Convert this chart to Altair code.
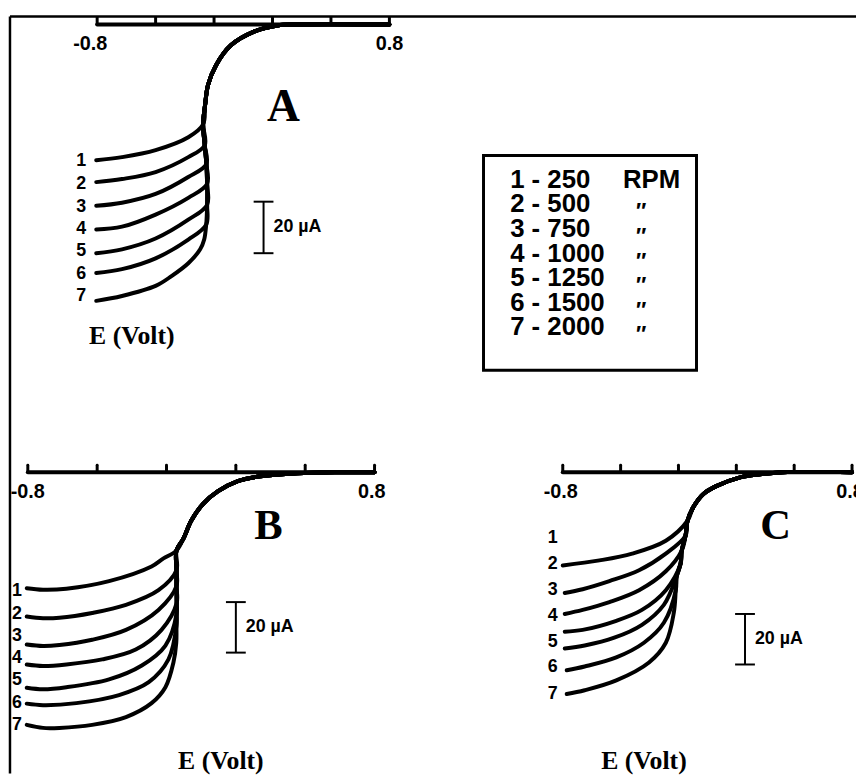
import altair as alt
import pandas as pd

# ---------------- data (E in volt, I in microampere) ----------------
RPM = [250, 500, 750, 1000, 1250, 1500, 2000]
TICKS_E = [-0.8, -0.48, -0.16, 0.16, 0.48, 0.8]

# Panel A
A_UPPER_E = [0.80, 0.295, 0.187, 0.062, -0.068, -0.149, -0.193, -0.209, -0.220]
A_UPPER_I = [0.0, 0.0, -0.4, -2.7, -8.1, -15.8, -23.5, -31.2, -38.8]
A_TRUNK_E = [-0.211, -0.202, -0.198, -0.198, -0.203, -0.214]
A_TRUNK_I = [-46.9, -54.2, -61.9, -70.0, -77.7, -83.5]
A_BRANCH_E = [
    [-0.301, -0.480, -0.664, -0.805],
    [-0.301, -0.480, -0.664, -0.805],
    [-0.301, -0.480, -0.664, -0.805],
    [-0.301, -0.480, -0.664, -0.805],
    [-0.301, -0.480, -0.664, -0.805],
    [-0.301, -0.480, -0.664, -0.805],
    [-0.236, -0.301, -0.393, -0.480, -0.664, -0.805],
]
A_BRANCH_I = [
    [-43.8, -48.8, -51.5, -52.7],
    [-51.5, -57.3, -60.0, -61.2],
    [-59.2, -65.8, -69.2, -70.4],
    [-67.3, -73.8, -78.5, -79.6],
    [-75.8, -83.1, -87.3, -88.8],
    [-83.5, -90.8, -95.0, -96.5],
    [-87.3, -92.7, -97.7, -101.5, -105.4, -107.3],
]
A_LABEL_E = -0.887
A_LABEL_I = [-53.1, -61.9, -70.8, -79.6, -88.1, -96.9, -105.4]

# Panel B
B_UPPER_E = [0.80, 0.626, 0.443, 0.274, 0.169, 0.078, 0.009, -0.046, -0.082, -0.114]
B_UPPER_I = [0.0, 0.0, -0.4, -1.6, -3.5, -7.5, -12.5, -19.2, -26.3, -31.0]
B_TRUNK_E = [-0.114, -0.114, -0.113, -0.113, -0.114, -0.115]
B_TRUNK_I = [-38.8, -45.1, -51.8, -55.7, -60.8, -67.5]
B_BRANCH_E = [
    [-0.174, -0.229, -0.425, -0.622, -0.730, -0.805],
    [-0.197, -0.347, -0.503, -0.654, -0.730, -0.805],
    [-0.197, -0.347, -0.503, -0.654, -0.730, -0.805],
    [-0.183, -0.302, -0.457, -0.622, -0.730, -0.805],
    [-0.165, -0.274, -0.425, -0.622, -0.730, -0.805],
    [-0.151, -0.242, -0.379, -0.576, -0.730, -0.805],
    [-0.128, -0.165, -0.229, -0.347, -0.503, -0.654, -0.730, -0.805],
]
B_BRANCH_I = [
    [-34.1, -37.3, -43.1, -46.1, -46.5, -45.9],
    [-46.7, -52.5, -55.7, -57.6, -57.8, -57.1],
    [-54.5, -62.4, -66.3, -68.4, -68.8, -68.2],
    [-62.4, -70.2, -74.1, -76.1, -76.7, -76.1],
    [-68.6, -76.5, -82.0, -85.1, -85.9, -85.3],
    [-74.1, -83.1, -88.2, -91.4, -92.2, -91.6],
    [-75.3, -85.1, -91.4, -96.9, -100.0, -101.2, -101.2, -100.0],
]
B_LABEL_E = -0.850
B_LABEL_I = [-47.1, -56.1, -64.7, -73.7, -82.4, -91.4, -100.0]

# Panel C
C_UPPER_E = [0.80, 0.416, 0.290, 0.181, 0.049, -0.022, -0.077, -0.110]
C_UPPER_I = [0.0, 0.0, -0.8, -2.0, -5.5, -8.6, -13.7, -19.2]
C_TRUNK_E = [-0.121, -0.142, -0.148, -0.170, -0.175, -0.186]
C_TRUNK_I = [-25.1, -31.0, -36.1, -41.2, -46.7, -55.7]
C_BRANCH_E = [
    [-0.230, -0.416, -0.597, -0.800],
    [-0.230, -0.378, -0.542, -0.690, -0.789],
    [-0.230, -0.378, -0.542, -0.690, -0.789],
    [-0.230, -0.362, -0.504, -0.690, -0.789],
    [-0.241, -0.362, -0.515, -0.679, -0.789],
    [-0.241, -0.351, -0.504, -0.679, -0.778],
    [-0.230, -0.323, -0.504, -0.679, -0.778],
]
C_BRANCH_I = [
    [-27.1, -32.2, -34.9, -36.9],
    [-32.2, -38.8, -43.1, -46.3, -47.8],
    [-39.2, -46.7, -51.4, -54.5, -56.1],
    [-46.7, -54.5, -58.8, -62.4, -63.1],
    [-52.5, -60.4, -65.5, -68.6, -69.8],
    [-59.6, -67.5, -73.3, -76.9, -78.4],
    [-67.5, -75.3, -82.4, -86.3, -87.8],
]
C_LABEL_E = -0.855
C_LABEL_I = [-25.9, -36.5, -46.7, -56.9, -67.1, -77.3, -87.8]

# ---------------- layout ----------------
W, H = 854, 764
# pixel x of -0.8 V, pixel x of +0.8 V, pixel y of 0 uA, px per uA (view coords)
LAYOUT = {"A": (88, 383, 8, 2.6), "B": (18, 368, 460, 2.55), "C": (558, 850, 460, 2.55)}
SANS = "Liberation Sans"
SERIF = "Liberation Serif"


def scales(key):
    pL, pR, p0, k = LAYOUT[key]
    s = (pR - pL) / 1.6
    x0 = -0.8 - pL / s
    top = p0 / k
    xs = alt.Scale(domain=[x0, x0 + W / s], nice=False, zero=False)
    ys = alt.Scale(domain=[top - H / k, top], nice=False, zero=False)
    return xs, ys, s, k


def panel(key, ue, ui, te, ti, be_list, bi_list, lab_e, lab_i, tick_lab_e,
          letter_pos, xlab_pos, bar_pos, letter_size):
    xs, ys, s, k = scales(key)

    def X(f):
        return alt.X(f, type="quantitative", scale=xs, axis=None)

    def Y(f):
        return alt.Y(f, type="quantitative", scale=ys, axis=None)

    rows = []
    for n, (be, bi) in enumerate(zip(be_list, bi_list), start=1):
        es = ue + te[: n - 1] + be
        iv = ui + ti[: n - 1] + bi
        for j, (e, i) in enumerate(zip(es, iv)):
            rows.append({"curve": n, "idx": j, "E": e, "I": i})
    curves = alt.Chart(pd.DataFrame(rows)).mark_line(
        color="black", strokeWidth=4, interpolate="catmull-rom",
        strokeCap="round", strokeJoin="round"
    ).encode(x=X("E"), y=Y("I"), detail="curve:N", order="idx:Q")

    axis_df = pd.DataFrame({"E0": [TICKS_E[0]], "E1": [TICKS_E[-1]], "I": [0.0]})
    axis_line = alt.Chart(axis_df).mark_rule(color="black", strokeWidth=4, strokeCap="round").encode(
        x=X("E0"), x2=alt.X2("E1"), y=Y("I"))

    tick_df = pd.DataFrame({"E": TICKS_E, "I0": [0.0] * len(TICKS_E), "I1": [7 / k] * len(TICKS_E)})
    ticks = alt.Chart(tick_df).mark_rule(color="black", strokeWidth=3, strokeCap="round").encode(
        x=X("E"), y=Y("I0"), y2=alt.Y2("I1"))

    tl_df = pd.DataFrame({"E": tick_lab_e, "I": [0.0, 0.0], "t": ["-0.8", "0.8"]})
    tick_labels = alt.Chart(tl_df).mark_text(
        font=SANS, fontWeight="bold", fontSize=20, dy=20, baseline="middle", align="center", color="black"
    ).encode(x=X("E"), y=Y("I"), text="t:N")

    nl_df = pd.DataFrame({"E": [lab_e] * 7, "I": lab_i, "t": [str(i) for i in range(1, 8)]})
    num_labels = alt.Chart(nl_df).mark_text(
        font=SANS, fontWeight="bold", fontSize=18, baseline="middle", align="center", color="black"
    ).encode(x=X("E"), y=Y("I"), text="t:N")

    let_df = pd.DataFrame({"E": [letter_pos[0]], "I": [letter_pos[1]], "t": [key]})
    letter = alt.Chart(let_df).mark_text(
        font=SERIF, fontWeight="bold", fontSize=letter_size, baseline="alphabetic", align="center", color="black"
    ).encode(x=X("E"), y=Y("I"), text="t:N")

    xl_df = pd.DataFrame({"E": [xlab_pos[0]], "I": [xlab_pos[1]], "t": ["E  (Volt)"]})
    xlabel = alt.Chart(xl_df).mark_text(
        font=SERIF, fontWeight="bold", fontSize=26, baseline="alphabetic", align="center", color="black"
    ).encode(x=X("E"), y=Y("I"), text="t:N")

    eb, itop = bar_pos
    cw = 10 / s
    bar_df = pd.DataFrame({"E": [eb], "I0": [itop], "I1": [itop - 20]})
    bar = alt.Chart(bar_df).mark_rule(color="black", strokeWidth=2).encode(
        x=X("E"), y=Y("I0"), y2=alt.Y2("I1"))
    cap_df = pd.DataFrame({"E0": [eb - cw, eb - cw], "E1": [eb + cw, eb + cw], "I": [itop, itop - 20]})
    caps = alt.Chart(cap_df).mark_rule(color="black", strokeWidth=2).encode(
        x=X("E0"), x2=alt.X2("E1"), y=Y("I"))
    bt_df = pd.DataFrame({"E": [eb], "I": [itop - 10], "t": ["20 µA"]})
    bar_text = alt.Chart(bt_df).mark_text(
        font=SANS, fontWeight="bold", fontSize=18, baseline="middle", align="left", dx=10, color="black"
    ).encode(x=X("E"), y=Y("I"), text="t:N")

    return alt.layer(curves, axis_line, ticks, tick_labels, num_labels, letter, xlabel, bar, caps, bar_text)


panelA = panel("A", A_UPPER_E, A_UPPER_I, A_TRUNK_E, A_TRUNK_I, A_BRANCH_E, A_BRANCH_I,
               A_LABEL_E, A_LABEL_I, [-0.838, 0.80], (0.220, -37.3), (-0.610, -124.2), (0.111, -68.8), 46)
panelB = panel("B", B_UPPER_E, B_UPPER_I, B_TRUNK_E, B_TRUNK_I, B_BRANCH_E, B_BRANCH_I,
               B_LABEL_E, B_LABEL_I, [-0.80, 0.787], (0.311, -26.3), (0.091, -117.6), (0.160, -51.4), 43)
panelC = panel("C", C_UPPER_E, C_UPPER_I, C_TRUNK_E, C_TRUNK_I, C_BRANCH_E, C_BRANCH_I,
               C_LABEL_E, C_LABEL_I, [-0.811, 0.789], (0.378, -26.3), (-0.351, -117.6), (0.208, -56.1), 43)

# ---------------- legend box ----------------
BOX_L, BOX_W = 478, 215       # px (view coords)
ROW_Y1, ROW_PITCH = 165, 24.8  # px of row 1 centre, row pitch
lx0 = -BOX_L / BOX_W
lxs = alt.Scale(domain=[lx0, lx0 + W / BOX_W], nice=False, zero=False)
ly0 = -(ROW_Y1 - ROW_PITCH) / ROW_PITCH
lys = alt.Scale(domain=[ly0, ly0 + H / ROW_PITCH], nice=False, zero=False, reverse=True)

leg_df = pd.DataFrame({
    "row": list(range(1, 8)),
    "lab": [f"{i} - {r}" for i, r in zip(range(1, 8), RPM)],
    "unit": ["RPM"] + ["\u2033"] * 6,
})
box_df = pd.DataFrame({"x0": [0.0], "x1": [1.0], "y0": [0.0], "y1": [8.74]})
box = alt.Chart(box_df).mark_rect(fillOpacity=0, stroke="black", strokeWidth=3).encode(
    x=alt.X("x0:Q", scale=lxs, axis=None), x2="x1:Q",
    y=alt.Y("y0:Q", scale=lys, axis=None), y2="y1:Q")
leg_lab = alt.Chart(leg_df).transform_calculate(cx="0.125").mark_text(
    font=SANS, fontWeight="bold", fontSize=26, align="left", baseline="middle", color="black"
).encode(x=alt.X("cx:Q", scale=lxs, axis=None), y=alt.Y("row:Q", scale=lys, axis=None), text="lab:N")
leg_rpm = alt.Chart(leg_df).transform_filter("datum.row == 1").transform_calculate(cx="0.655").mark_text(
    font=SANS, fontWeight="bold", fontSize=26, align="left", baseline="middle", color="black"
).encode(x=alt.X("cx:Q", scale=lxs, axis=None), y=alt.Y("row:Q", scale=lys, axis=None), text="unit:N")
leg_ditto = alt.Chart(leg_df).transform_filter("datum.row > 1").transform_calculate(cx="0.735").mark_text(
    font=SANS, fontWeight="bold", fontSize=22, fontStyle="italic", align="center", baseline="middle",
    dy=7, color="black"
).encode(x=alt.X("cx:Q", scale=lxs, axis=None), y=alt.Y("row:Q", scale=lys, axis=None), text="unit:N")
legend = alt.layer(box, leg_lab, leg_rpm, leg_ditto)

# ---------------- outer frame (left and top edges) ----------------
one = pd.DataFrame({"a": [0]})
frame_left = alt.Chart(one).mark_rule(color="black", strokeWidth=2.5).encode(
    x=alt.value(0), y=alt.value(0), y2=alt.value(H))
frame_top = alt.Chart(one).mark_rule(color="black", strokeWidth=2.5).encode(
    x=alt.value(0), x2=alt.value(W), y=alt.value(0))

chart = alt.layer(frame_left, frame_top, panelA, panelB, panelC, legend).resolve_scale(
    x="independent", y="independent"
).properties(
    width=W, height=H,
    padding={"left": 2, "top": 5, "right": 0, "bottom": 0},
    autosize=alt.AutoSizeParams(type="none"),
    background="white",
).configure_view(stroke=None)

chart.save("out.html", embed_options={"renderer": "svg", "actions": False})
